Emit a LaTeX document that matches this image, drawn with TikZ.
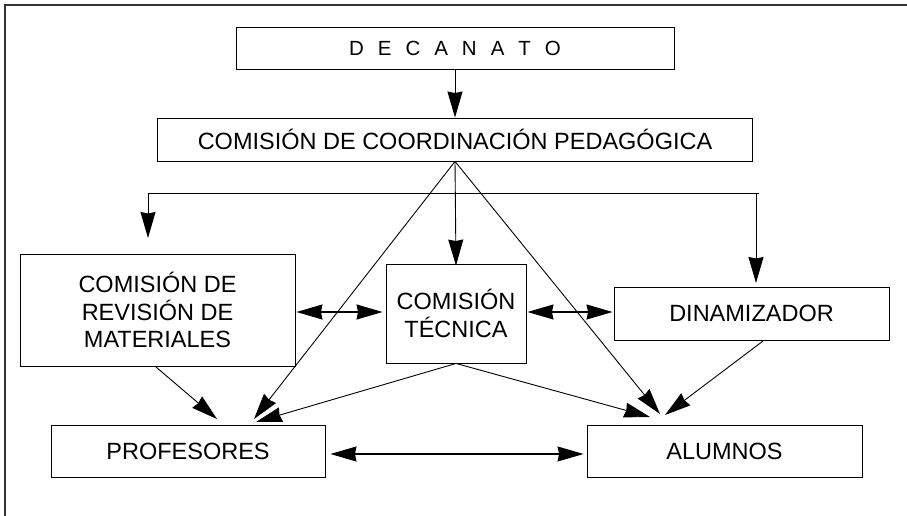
\documentclass[tikz,border=0pt]{standalone}
\usepackage{fontspec}
\setmainfont{Liberation Sans}
\usetikzlibrary{arrows.meta}
\begin{document}
\begin{tikzpicture}[x=1pt,y=-1pt,
 box/.style={draw, line width=0.9pt, align=center, inner sep=0pt, font=\fontsize{23.5}{27.5}\selectfont},
 tip/.tip={Stealth[length=26pt,width=15pt,inset=1.5pt]},
 arr/.style={line width=0.9pt, -tip},
 dbl/.style={line width=1.3pt, tip-tip},
 ln/.style={line width=0.9pt}]
\useasboundingbox (0,0) rectangle (907,516);
\draw[line width=1.6pt, black!80] (5,516) -- (5,5) -- (907,5);
\node[box, minimum width=438pt, minimum height=42pt, font=\fontsize{20.5}{24}\selectfont] (dec) at (455,48) {\spaceskip=14pt D E C A N A T O};
\node[box, minimum width=595pt, minimum height=43pt] (ccp) at (455,139.5) {COMISIÓN DE COORDINACIÓN PEDAGÓGICA};
\node[box, minimum width=275pt, minimum height=112pt] (rev) at (157.5,310) {COMISIÓN DE\\REVISIÓN DE\\MATERIALES};
\node[box, minimum width=140pt, minimum height=99pt] (tec) at (456,313.5) {COMISIÓN\\TÉCNICA};
\node[box, minimum width=275pt, minimum height=53pt] (din) at (751.5,313.5) {DINAMIZADOR};
\node[box, minimum width=274pt, minimum height=52pt] (prof) at (188,451) {PROFESORES};
\node[box, minimum width=275pt, minimum height=52pt] (alum) at (724.5,451) {ALUMNOS};
% distribution line
\coordinate (dl) at (148,193);
\coordinate (dr) at (759,193);
\coordinate (dlt) at (148,238);
\coordinate (drb) at (756,193);
\coordinate (drt) at (756,283);
\draw[ln] (dl) -- (dr);
\draw[arr] (dl) -- (dlt);
\draw[arr] (drb) -- (drt);
\draw[arr] (dec.south) -- (ccp.north);
\draw[arr] (ccp.south) -- ([yshift=-2pt]tec.north);
% diagonals
\coordinate (pa) at (254,419);
\coordinate (pb) at (256,422);
\coordinate (pc) at (217,419);
\coordinate (aa) at (660,414);
\coordinate (ab) at (650,417);
\coordinate (ac) at (665,415);
\coordinate (revb) at (156,367);
\coordinate (dinb) at (763,341);
\draw[arr] (ccp.south) -- (pa);
\draw[arr] (ccp.south) -- (aa);
\draw[arr] (tec.south) -- (pb);
\draw[arr] (tec.south) -- (ab);
\draw[arr] (revb) -- (pc);
\draw[arr] (dinb) -- (ac);
% double arrows
\draw[dbl] ([xshift=1pt]rev.east |- 0,312) -- ([xshift=-3pt]tec.west |- 0,312);
\draw[dbl] ([xshift=1pt]tec.east |- 0,312) -- ([xshift=-1pt]din.west |- 0,312);
\draw[dbl] ([xshift=5pt]prof.east |- 0,454) -- ([xshift=-3pt]alum.west |- 0,454);
\end{tikzpicture}
\end{document}
